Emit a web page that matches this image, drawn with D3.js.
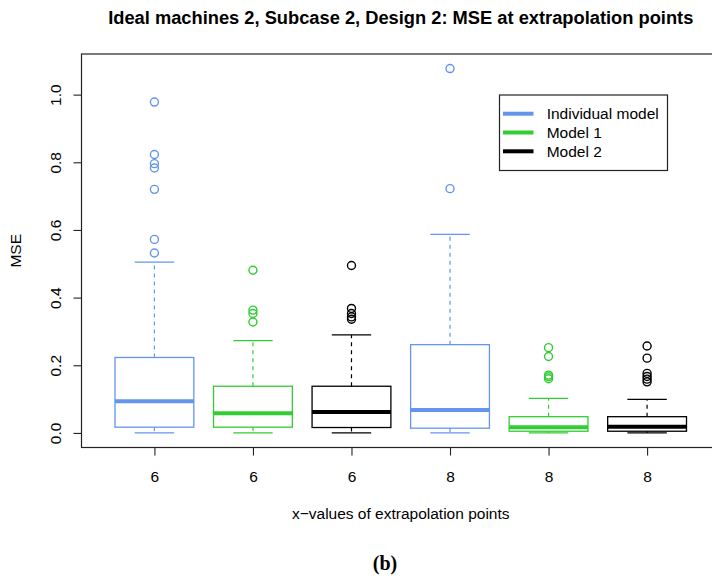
<!DOCTYPE html>
<html>
<head>
<meta charset="utf-8">
<script src="https://cdn.jsdelivr.net/npm/d3@7"></script>
<style>
  html, body { margin: 0; padding: 0; background: #fff; }
  svg { display: block; font-family: "Liberation Sans", Arial, Helvetica, sans-serif; }
</style>
</head>
<body>
<svg id="chart" width="712" height="578"></svg>
<script>
// ---- data ----
const title = "Ideal machines 2, Subcase 2, Design 2: MSE at extrapolation points";
const xTitle = "x\u2212values of extrapolation points";
const yTitle = "MSE";
const caption = "(b)";
const xLabels = ["6", "6", "6", "8", "8", "8"];
const boxModel = [0, 1, 2, 0, 1, 2];
const modelNames = ["Individual model", "Model 1", "Model 2"];
const modelColors = ["#6495ED", "#32CD32", "#000000"];
const whiskerLow = [0.000, 0.000, 0.000, 0.000, 0.000, 0.000];
const q1 = [0.017, 0.017, 0.016, 0.014, 0.005, 0.005];
const median = [0.094, 0.058, 0.062, 0.068, 0.017, 0.018];
const q3 = [0.223, 0.138, 0.138, 0.261, 0.048, 0.048];
const whiskerHigh = [0.505, 0.273, 0.290, 0.587, 0.102, 0.099];
const outliers = [
  [0.978, 0.823, 0.796, 0.783, 0.720, 0.572, 0.532],
  [0.481, 0.363, 0.353, 0.328],
  [0.495, 0.368, 0.353, 0.343, 0.336],
  [1.077, 0.722],
  [0.252, 0.226, 0.171, 0.166, 0.160],
  [0.257, 0.221, 0.176, 0.167, 0.159, 0.151]
];
const yTicks = [0, 0.2, 0.4, 0.6, 0.8, 1.0];

// ---- layout ----
const svg = d3.select("#chart");
const plotLeft = 81.5, plotRight = 720, plotTop = 54, plotBottom = 447.5;

const n = xLabels.length;
const xExt = 0.04 * (n - 0);
const x = d3.scaleLinear().domain([0.5 - xExt, n + 0.5 + xExt]).range([plotLeft, plotRight]);

const allVals = [].concat(whiskerLow, whiskerHigh, ...outliers);
const yMin = d3.min(allVals), yMax = d3.max(allVals);
const yExt = 0.04 * (yMax - yMin);
const y = d3.scaleLinear().domain([yMin - yExt, yMax + yExt]).range([plotBottom, plotTop]);

const boxHalf = 0.4, capHalf = 0.2;

const g = svg.append("g");

// boxes
const boxes = d3.range(n).map(i => ({
  i, pos: i + 1, col: modelColors[boxModel[i]],
  lo: whiskerLow[i], q1: q1[i], med: median[i], q3: q3[i], hi: whiskerHigh[i], out: outliers[i]
}));

const bg = g.selectAll("g.box").data(boxes).join("g").attr("class", "box");

// whiskers (dashed)
bg.append("line")
  .attr("x1", d => x(d.pos)).attr("x2", d => x(d.pos))
  .attr("y1", d => y(d.q3)).attr("y2", d => y(d.hi))
  .attr("stroke", d => d.col).attr("stroke-width", 1.2).attr("stroke-dasharray", "4,4");
bg.append("line")
  .attr("x1", d => x(d.pos)).attr("x2", d => x(d.pos))
  .attr("y1", d => y(d.q1)).attr("y2", d => y(d.lo))
  .attr("stroke", d => d.col).attr("stroke-width", 1.2).attr("stroke-dasharray", "4,4");
// caps
bg.append("line")
  .attr("x1", d => x(d.pos - capHalf)).attr("x2", d => x(d.pos + capHalf))
  .attr("y1", d => y(d.hi)).attr("y2", d => y(d.hi))
  .attr("stroke", d => d.col).attr("stroke-width", 1.3);
bg.append("line")
  .attr("x1", d => x(d.pos - capHalf)).attr("x2", d => x(d.pos + capHalf))
  .attr("y1", d => y(d.lo)).attr("y2", d => y(d.lo))
  .attr("stroke", d => d.col).attr("stroke-width", 1.3);
// box
bg.append("rect")
  .attr("x", d => x(d.pos - boxHalf)).attr("width", d => x(d.pos + boxHalf) - x(d.pos - boxHalf))
  .attr("y", d => y(d.q3)).attr("height", d => y(d.q1) - y(d.q3))
  .attr("fill", "none").attr("stroke", d => d.col).attr("stroke-width", 1.3);
// median
bg.append("line")
  .attr("x1", d => x(d.pos - boxHalf)).attr("x2", d => x(d.pos + boxHalf))
  .attr("y1", d => y(d.med)).attr("y2", d => y(d.med))
  .attr("stroke", d => d.col).attr("stroke-width", 4);
// outliers
bg.selectAll("circle").data(d => d.out.map(v => ({ v, pos: d.pos, col: d.col })))
  .join("circle")
  .attr("cx", d => x(d.pos)).attr("cy", d => y(d.v)).attr("r", 4)
  .attr("fill", "none").attr("stroke", d => d.col).attr("stroke-width", 1.4);

// frame
svg.append("rect")
  .attr("x", plotLeft).attr("y", plotTop)
  .attr("width", plotRight - plotLeft).attr("height", plotBottom - plotTop)
  .attr("fill", "none").attr("stroke", "#222").attr("stroke-width", 1.2);

// y axis
const yAxis = svg.append("g")
  .attr("transform", `translate(${plotLeft},0)`)
  .call(d3.axisLeft(y).tickValues(yTicks).tickFormat(d3.format(".1f")).tickSize(8).tickSizeOuter(0));
yAxis.select(".domain").remove();
yAxis.selectAll(".tick line").attr("stroke", "#222").attr("stroke-width", 1.1);
yAxis.selectAll(".tick text")
  .attr("font-size", 15.5).attr("font-family", "Liberation Sans, Arial, sans-serif").attr("fill", "#000")
  .attr("text-anchor", "middle")
  .attr("x", 0).attr("dy", null).attr("y", 0)
  .attr("transform", "translate(-26,0) rotate(-90)")
  .attr("dominant-baseline", "central");

// x axis
const xAxis = svg.append("g")
  .attr("transform", `translate(0,${plotBottom})`)
  .call(d3.axisBottom(x).tickValues(d3.range(1, n + 1)).tickFormat((d, i) => xLabels[i]).tickSize(8).tickSizeOuter(0));
xAxis.select(".domain").remove();
xAxis.selectAll(".tick line").attr("stroke", "#222").attr("stroke-width", 1.1);
xAxis.selectAll(".tick text")
  .attr("font-size", 15.5).attr("font-family", "Liberation Sans, Arial, sans-serif").attr("fill", "#000")
  .attr("y", 0).attr("dy", null).attr("transform", "translate(0,34)");

// titles
svg.append("text")
  .attr("x", (plotLeft + plotRight) / 2).attr("y", 24)
  .attr("text-anchor", "middle").attr("font-size", 18.3).attr("font-weight", "bold")
  .text(title);
svg.append("text")
  .attr("x", (plotLeft + plotRight) / 2).attr("y", 519)
  .attr("text-anchor", "middle").attr("font-size", 15.5)
  .text(xTitle);
svg.append("text")
  .attr("transform", `translate(21,${(plotTop + plotBottom) / 2}) rotate(-90)`)
  .attr("text-anchor", "middle").attr("font-size", 15.5)
  .text(yTitle);
svg.append("text")
  .attr("x", 385).attr("y", 570)
  .attr("text-anchor", "middle").attr("font-size", 20).attr("font-weight", "bold")
  .attr("font-family", "Liberation Serif, Times New Roman, serif")
  .text(caption);

// legend
const leg = svg.append("g");
leg.append("rect").attr("x", 499.5).attr("y", 95).attr("width", 168).attr("height", 75.5)
  .attr("fill", "#fff").attr("stroke", "#222").attr("stroke-width", 1.2);
const li = leg.selectAll("g.li").data(modelNames).join("g").attr("class", "li")
  .attr("transform", (d, i) => `translate(0,${113.7 + i * 18.8})`);
li.append("line").attr("x1", 503).attr("x2", 533.5).attr("y1", 0).attr("y2", 0)
  .attr("stroke", (d, i) => modelColors[i]).attr("stroke-width", 4);
li.append("text").attr("x", 546.7).attr("y", 0).attr("dominant-baseline", "central")
  .attr("font-size", 15.5).text(d => d);
</script>
</body>
</html>
